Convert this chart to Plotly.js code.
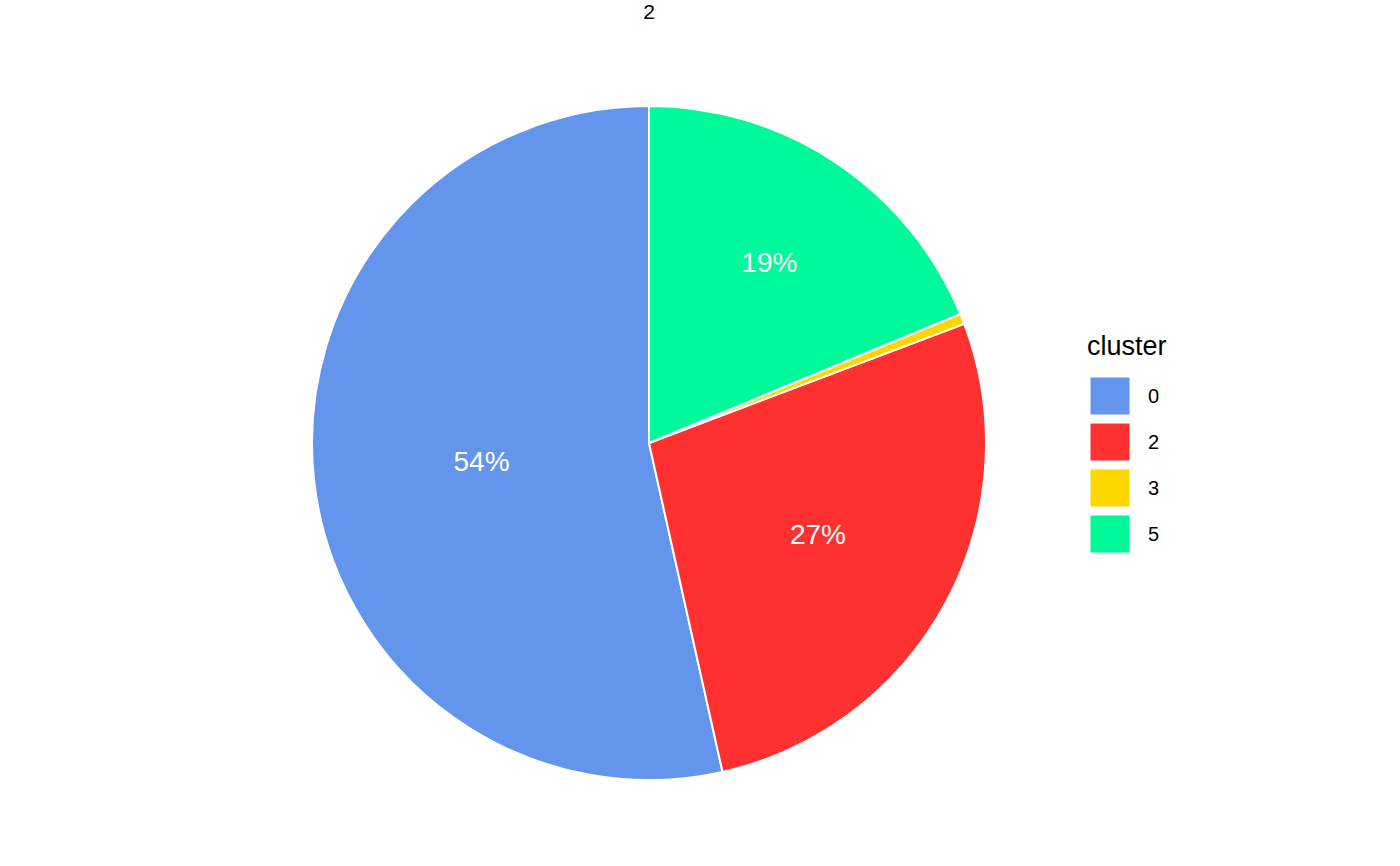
<!DOCTYPE html>
<html>
<head>
<meta charset="utf-8">
<script src="https://cdn.plot.ly/plotly-3.0.1.min.js"></script>
<style>html,body{margin:0;padding:0;background:#fff;}#chart{width:1400px;height:866px;}</style>
</head>
<body>
<div id="chart"></div>
<script>
const categories = ["0", "2", "3", "5"];
const counts = [214, 109, 2, 75];
const colors = ["#6495ED", "#FF3030", "#FFD700", "#00FA9A"];
const chartTitle = "2";
const legendTitle = "cluster";

const total = counts.reduce((a, b) => a + b, 0);
const labelsText = counts.map(v => {
  const p = Math.round(100 * v / total);
  return p >= 2 ? p + "%" : "";
});

const W = 1400, H = 866;
const cx = 649, cy = 443, R = 337;
const FONT = "Liberation Sans, Arial, sans-serif";

const trace = {
  type: "pie",
  labels: categories,
  values: counts,
  sort: false,
  direction: "counterclockwise",
  rotation: -360 * counts[0] / total,
  text: labelsText,
  textinfo: "text",
  textposition: "inside",
  insidetextorientation: "horizontal",
  textfont: {family: FONT, size: 28, color: "#ffffff"},
  marker: {colors: colors, line: {color: "#ffffff", width: 2}},
  hoverinfo: "skip",
  showlegend: false,
  domain: {
    x: [(cx - R) / W, (cx + R) / W],
    y: [(H - (cy + R)) / H, (H - (cy - R)) / H]
  }
};

const shapes = [];
const annotations = [];
const keyX0 = 1090, keyW = 40, keyH = 38, keyGap = 8, keyY0 = 377;
annotations.push({
  xref: "paper", yref: "paper", x: 1085 / W, y: 1 - 346 / H,
  xanchor: "left", yanchor: "middle", showarrow: false,
  text: legendTitle,
  font: {family: FONT, size: 27, color: "#000"}
});
categories.forEach((c, i) => {
  const top = keyY0 + i * (keyH + keyGap);
  shapes.push({
    type: "rect", xref: "paper", yref: "paper",
    x0: keyX0 / W, x1: (keyX0 + keyW) / W,
    y0: 1 - (top + keyH) / H, y1: 1 - top / H,
    fillcolor: colors[i], line: {color: "#ffffff", width: 1}
  });
  annotations.push({
    xref: "paper", yref: "paper", x: 1146 / W, y: 1 - (top + keyH / 2) / H,
    xanchor: "left", yanchor: "middle", showarrow: false,
    text: c,
    font: {family: FONT, size: 20, color: "#000"}
  });
});

const layout = {
  width: W, height: H,
  margin: {l: 0, r: 0, t: 0, b: 0},
  paper_bgcolor: "#ffffff",
  plot_bgcolor: "#ffffff",
  title: {
    text: chartTitle,
    x: cx / W, xanchor: "center", xref: "paper",
    y: 1 - 12 / H, yanchor: "middle", yref: "container",
    font: {family: FONT, size: 21, color: "#000"}
  },
  showlegend: false,
  shapes: shapes,
  annotations: annotations
};

Plotly.newPlot("chart", [trace], layout, {displayModeBar: false, staticPlot: true});
</script>
</body>
</html>
